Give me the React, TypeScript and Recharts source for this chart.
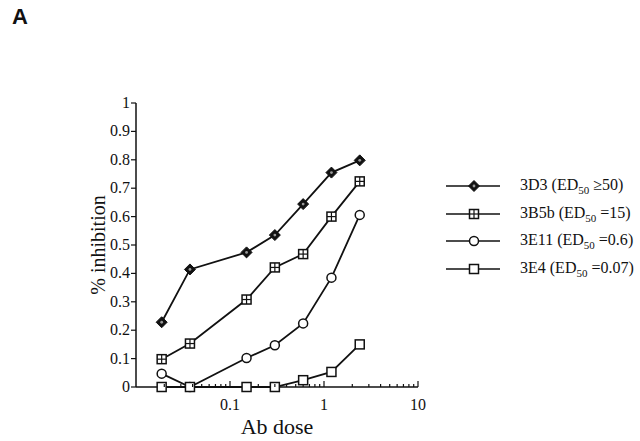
import React from 'react';
import { LineChart, Line, XAxis, YAxis } from 'recharts';

// Ab dose (log scale) and % inhibition for each antibody
const doses = [0.01875, 0.0375, 0.15, 0.3, 0.6, 1.2, 2.4];
const inh3D3 = [0.228, 0.414, 0.474, 0.535, 0.644, 0.755, 0.798];
const inh3B5b = [0.098, 0.153, 0.308, 0.421, 0.468, 0.6, 0.724];
const inh3E11 = [0.047, 0, 0.102, 0.147, 0.224, 0.385, 0.606];
const inh3E4 = [0, 0, 0, 0, 0.024, 0.053, 0.15];

const xTicks = [
    0.02, 0.03, 0.04, 0.05, 0.06, 0.07, 0.08, 0.09, 0.1,
    0.2, 0.3, 0.4, 0.5, 0.6, 0.7, 0.8, 0.9, 1,
    2, 3, 4, 5, 6, 7, 8, 9, 10,
];
const xLabels = [0.1, 1, 10];
const yTicks = [0, 0.1, 0.2, 0.3, 0.4, 0.5, 0.6, 0.7, 0.8, 0.9, 1];

const series = [
    { key: 'd3', name: '3D3', ed: '\u226550', marker: 'diamond', values: inh3D3 },
    { key: 'b5b', name: '3B5b', ed: '=15', marker: 'gridSquare', values: inh3B5b },
    { key: 'e11', name: '3E11', ed: '=0.6', marker: 'circle', values: inh3E11 },
    { key: 'e4', name: '3E4', ed: '=0.07', marker: 'square', values: inh3E4 },
];

const data = doses.map((dose, i) => {
    const row: Record<string, number> = { dose };
    series.forEach(s => { row[s.key] = s.values[i]; });
    return row;
});

const SERIF = '"Liberation Serif", "Times New Roman", serif';
const INK = '#111';

const Marker = ({ type, cx, cy }: { type: string; cx: number; cy: number }) => {
    if (type === 'diamond') {
        return (
            <g>
                <path d={`M${cx},${cy - 5.5} L${cx + 5.5},${cy} L${cx},${cy + 5.5} L${cx - 5.5},${cy} Z`} fill={INK} stroke={INK} strokeWidth={1} />
                <circle cx={cx} cy={cy} r={1.4} fill="#999" />
            </g>
        );
    }
    if (type === 'gridSquare') {
        return (
            <g>
                <rect x={cx - 4.5} y={cy - 4.5} width={9} height={9} fill="#fff" stroke={INK} strokeWidth={1.5} />
                <line x1={cx} y1={cy - 4.5} x2={cx} y2={cy + 4.5} stroke={INK} strokeWidth={1.2} />
                <line x1={cx - 4.5} y1={cy} x2={cx + 4.5} y2={cy} stroke={INK} strokeWidth={1.2} />
            </g>
        );
    }
    if (type === 'circle') {
        return <circle cx={cx} cy={cy} r={4.5} fill="#fff" stroke={INK} strokeWidth={1.5} />;
    }
    return <rect x={cx - 4.5} y={cy - 4.5} width={9} height={9} fill="#fff" stroke={INK} strokeWidth={1.5} />;
};

const XTick = (props: any) => {
    const { x, y, payload } = props;
    const major = xLabels.includes(payload.value);
    return (
        <g>
            <line x1={x} y1={y} x2={x} y2={y - (major ? 6 : 3)} stroke={INK} strokeWidth={1.2} />
            {major && (
                <text x={x} y={y + 23} textAnchor="middle" style={{ fontSize: 16, fontFamily: SERIF }} fill={INK}>
                    {payload.value}
                </text>
            )}
        </g>
    );
};

const YTick = (props: any) => {
    const { x, y, payload } = props;
    return (
        <g>
            <line x1={x} y1={y} x2={x - 5} y2={y} stroke={INK} strokeWidth={1.2} />
            <text x={x - 6} y={y + 5} textAnchor="end" style={{ fontSize: 16, fontFamily: SERIF }} fill={INK}>
                {payload.value}
            </text>
        </g>
    );
};

const LegendBox = () => (
    <div style={{ position: 'absolute', left: 446, top: 172, fontFamily: SERIF, fontSize: 16, color: INK }}>
        {series.map(s => (
            <div key={s.key} style={{ display: 'flex', alignItems: 'center', height: 27.8 }}>
                <svg width={74} height={20}>
                    <line x1={0} y1={10} x2={54} y2={10} stroke={INK} strokeWidth={1.5} />
                    <Marker type={s.marker} cx={28} cy={10} />
                </svg>
                <span style={{ whiteSpace: 'nowrap' }}>
                    {s.name} (ED<sub style={{ fontSize: 11 }}>50</sub> {s.ed})
                </span>
            </div>
        ))}
    </div>
);

export default function App() {
    return (
        <div style={{ position: 'absolute', left: 0, top: 0, width: 640, height: 441, background: '#fff' }}>
            <div style={{ position: 'absolute', left: 12, top: 4, fontFamily: '"Liberation Sans", Arial, sans-serif', fontWeight: 'bold', fontSize: 22, color: INK }}>
                A
            </div>
            <LineChart width={640} height={441} data={data} margin={{ top: 103, right: 222, bottom: 24, left: 96 }}>
                <XAxis
                    dataKey="dose"
                    type="number"
                    scale="log"
                    domain={[0.01, 10]}
                    allowDataOverflow
                    ticks={xTicks}
                    interval={0}
                    tickSize={0}
                    tickMargin={0}
                    tickLine={false}
                    tick={<XTick />}
                    height={30}
                    stroke={INK}
                    strokeWidth={1.5}
                    label={{ value: 'Ab dose', position: 'insideBottom', offset: -17, style: { fontSize: 22, fontFamily: SERIF, fill: INK } }}
                />
                <YAxis
                    type="number"
                    domain={[0, 1]}
                    ticks={yTicks}
                    interval={0}
                    width={40}
                    tickSize={0}
                    tickMargin={0}
                    tickLine={false}
                    tick={<YTick />}
                    stroke={INK}
                    strokeWidth={1.5}
                    label={{ value: '% inhibition', angle: -90, position: 'insideLeft', offset: 2, style: { textAnchor: 'middle', fontSize: 20, fontFamily: SERIF, fill: INK } }}
                />
                {series.map(s => (
                    <Line
                        key={s.key}
                        dataKey={s.key}
                        name={s.name}
                        stroke={INK}
                        strokeWidth={1.8}
                        isAnimationActive={false}
                        dot={(p: any) => <Marker key={`${s.key}-${p.index}`} type={s.marker} cx={p.cx} cy={p.cy} />}
                    />
                ))}
            </LineChart>
            <LegendBox />
        </div>
    );
}
